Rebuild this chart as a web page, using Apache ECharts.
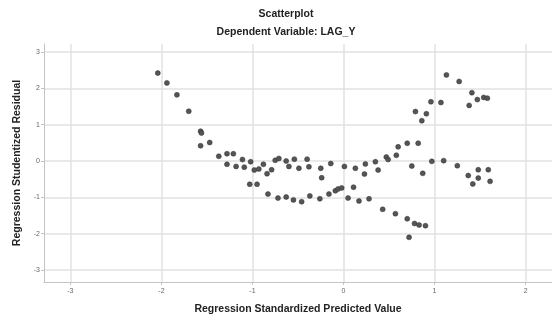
<!DOCTYPE html>
<html>
<head>
<meta charset="utf-8">
<script src="https://cdn.jsdelivr.net/npm/echarts@6/dist/echarts.min.js"></script>
<style>
  html, body { margin: 0; padding: 0; background: #fff; }
  #chart { width: 552px; height: 320px; }
</style>
</head>
<body>
<div id="chart"></div>
<script>
// predicted value (x) / studentized residual (y)
const points = [
  [-2.04, 2.42], [-1.94, 2.15], [-1.83, 1.82], [-1.70, 1.37], [-1.57, 0.82], [-1.56, 0.77],
  [-1.57, 0.42], [-1.47, 0.51], [-1.37, 0.13], [-1.28, 0.20], [-1.21, 0.20], [-1.28, -0.09],
  [-1.18, -0.15], [-1.11, 0.04], [-1.09, -0.17], [-1.02, -0.02], [-0.98, -0.25], [-0.93, -0.22],
  [-0.88, -0.09], [-0.84, -0.35], [-0.79, -0.24], [-0.75, 0.02], [-0.71, 0.07], [-0.63, 0.0],
  [-0.60, -0.15], [-0.54, 0.05], [-0.49, -0.20], [-0.40, 0.05], [-0.38, -0.16], [-0.25, -0.20],
  [-0.24, -0.46], [-0.14, -0.07], [0.01, -0.15], [0.13, -0.20], [0.24, -0.08], [0.23, -0.36],
  [0.35, -0.02], [0.38, -0.25], [0.47, 0.11], [0.49, 0.04], [0.58, 0.16], [0.60, 0.39],
  [0.70, 0.49], [0.82, 0.49], [0.75, -0.14], [0.87, -0.34], [0.86, 1.11], [0.79, 1.36],
  [0.91, 1.30], [0.96, 1.63], [1.07, 1.61], [1.13, 2.37], [1.27, 2.19], [1.41, 1.88],
  [1.47, 1.69], [1.54, 1.75], [1.58, 1.73], [1.38, 1.53], [0.97, -0.01], [1.10, 0.01],
  [1.25, -0.13], [1.37, -0.40], [1.48, -0.24], [1.59, -0.24], [1.42, -0.63], [1.48, -0.47],
  [1.61, -0.56],
  [-1.03, -0.64], [-0.95, -0.64], [-0.83, -0.91], [-0.72, -1.02], [-0.63, -0.99], [-0.55, -1.07],
  [-0.46, -1.12], [-0.37, -0.96], [-0.26, -1.04], [-0.16, -0.91], [-0.09, -0.82], [-0.06, -0.77],
  [-0.02, -0.74], [0.05, -1.02], [0.11, -0.72], [0.17, -1.10], [0.28, -1.04], [0.43, -1.33],
  [0.57, -1.45], [0.70, -1.59], [0.78, -1.72], [0.83, -1.76], [0.90, -1.78], [0.72, -2.10]
]
const xTicks = [-3, -2, -1, 0, 1, 2]
const yTicks = [-3, -2, -1, 0, 1, 2, 3]

const font = 'Liberation Sans, Arial, sans-serif'
const chart = echarts.init(document.getElementById('chart'))

chart.setOption({
  animation: false,
  title: [{
    text: 'Scatterplot',
    left: 281,
    top: 4,
    textAlign: 'center',
    textStyle: { fontFamily: font, fontSize: 10.5, fontWeight: 'bold', color: '#222' }
  }, {
    text: 'Dependent Variable: LAG_Y',
    left: 281,
    top: 22,
    textAlign: 'center',
    textStyle: { fontFamily: font, fontSize: 10.5, fontWeight: 'bold', color: '#222' }
  }],
  grid: { left: 44, right: 0, top: 44, bottom: 36 },
  xAxis: {
    type: 'value',
    min: -3.29,
    max: 2.29,
    name: 'Regression Standardized Predicted Value',
    nameLocation: 'middle',
    nameGap: 22,
    nameTextStyle: { fontFamily: font, fontSize: 10.5, fontWeight: 'bold', color: '#222' },
    axisLine: { onZero: false, lineStyle: { color: '#c4c4c4' } },
    axisTick: { show: true, length: 3, customValues: xTicks, lineStyle: { color: '#c4c4c4' } },
    axisLabel: { customValues: xTicks, fontFamily: font, fontSize: 7, color: '#666', margin: 6 },
    splitLine: { show: true, lineStyle: { color: '#e2e2e2', width: 1.5 } }
  },
  yAxis: {
    type: 'value',
    min: -3.33,
    max: 3.22,
    name: 'Regression Studentized Residual',
    nameLocation: 'middle',
    nameGap: 20,
    nameTextStyle: { fontFamily: font, fontSize: 10.5, fontWeight: 'bold', color: '#222' },
    axisLine: { show: true, onZero: false, lineStyle: { color: '#c4c4c4' } },
    axisTick: { show: true, length: 3, customValues: yTicks, lineStyle: { color: '#c4c4c4' } },
    axisLabel: { customValues: yTicks, fontFamily: font, fontSize: 7, color: '#666', margin: 4 },
    splitLine: { show: true, lineStyle: { color: '#e2e2e2', width: 1.5 } }
  },
  series: [{
    type: 'scatter',
    data: points,
    symbolSize: 5,
    itemStyle: { color: '#555', borderColor: '#333', borderWidth: 0.5, opacity: 1 }
  }]
})
</script>
</body>
</html>
